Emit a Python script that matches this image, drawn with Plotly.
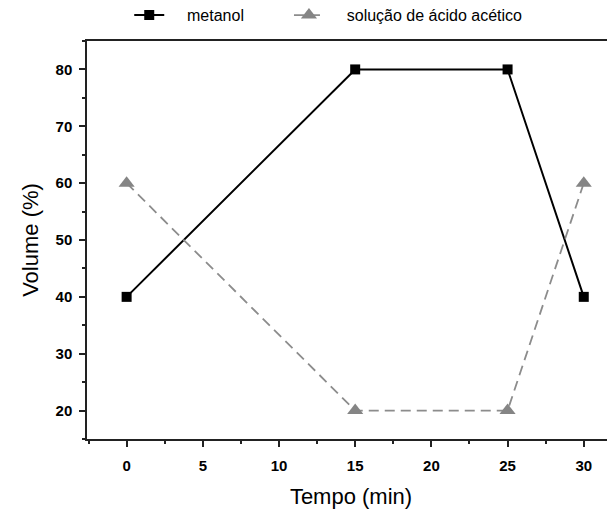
import plotly.graph_objects as go

tempo = [0, 15, 25, 30]
metanol = [40, 80, 80, 40]
acido = [60, 20, 20, 60]
x_ticks = [0, 5, 10, 15, 20, 25, 30]
y_ticks = [20, 30, 40, 50, 60, 70, 80]

NB = "\u00a0"
fig = go.Figure()
fig.add_trace(go.Scatter(
    x=tempo, y=metanol, name=NB * 4 + "metanol" + NB * 9, mode="lines+markers",
    line=dict(color="black", width=2),
    marker=dict(symbol="square", size=10, color="black"),
))
fig.add_trace(go.Scatter(
    x=tempo, y=acido, name=NB * 4 + "solução de ácido acético", mode="lines+markers",
    line=dict(color="#8c8c8c", width=1.8, dash="10px,6px"),
    marker=dict(symbol="triangle-up", size=14, color="#858585"),
))
# invisible trace for right-side ticks
fig.add_trace(go.Scatter(x=[0], y=[50], yaxis="y2", showlegend=False,
                         mode="markers", marker=dict(opacity=0), hoverinfo="skip"))

axis_common = dict(
    showgrid=False, zeroline=False, showline=True, linecolor="#222", linewidth=1.5,
    ticks="outside", ticklen=6, tickwidth=1.5, tickcolor="#222",
    tickfont=dict(family="Liberation Sans, Arial", size=15, color="black", weight="bold"),
)
fig.update_layout(
    width=607, height=503,
    margin=dict(l=79, r=0, t=33, b=72, autoexpand=False),
    plot_bgcolor="white", paper_bgcolor="white",
    font=dict(family="Liberation Sans, Arial", color="black"),
    xaxis=dict(range=[-2.6, 32.05], tickvals=x_ticks, ticklabelstandoff=6,
               minor=dict(dtick=2.5, ticks="outside", ticklen=3, tickwidth=1.5, tickcolor="#222"),
               title=dict(text="Tempo (min)", font=dict(size=22), standoff=16),
               mirror=True, **axis_common),
    yaxis=dict(range=[15, 85], tickvals=y_ticks, ticklabelstandoff=4,
               minor=dict(dtick=5, ticks="outside", ticklen=3, tickwidth=1.5, tickcolor="#222"),
               title=dict(text="Volume (%)", font=dict(size=22), standoff=11),
               **axis_common),
    yaxis2=dict(range=[15, 85], overlaying="y", side="right", showgrid=False, zeroline=False,
                showline=False, showticklabels=False, ticks="inside", ticklen=4,
                tickwidth=1, tickcolor="#aaa", tickvals=y_ticks,
                minor=dict(dtick=5, ticks="inside", ticklen=3, tickwidth=1, tickcolor="#bbb")),
    legend=dict(orientation="h", x=0.08, xanchor="left", y=1.065, yanchor="middle",
                font=dict(size=16), bgcolor="rgba(0,0,0,0)"),
    showlegend=True,
)
fig.write_html("out.html")
